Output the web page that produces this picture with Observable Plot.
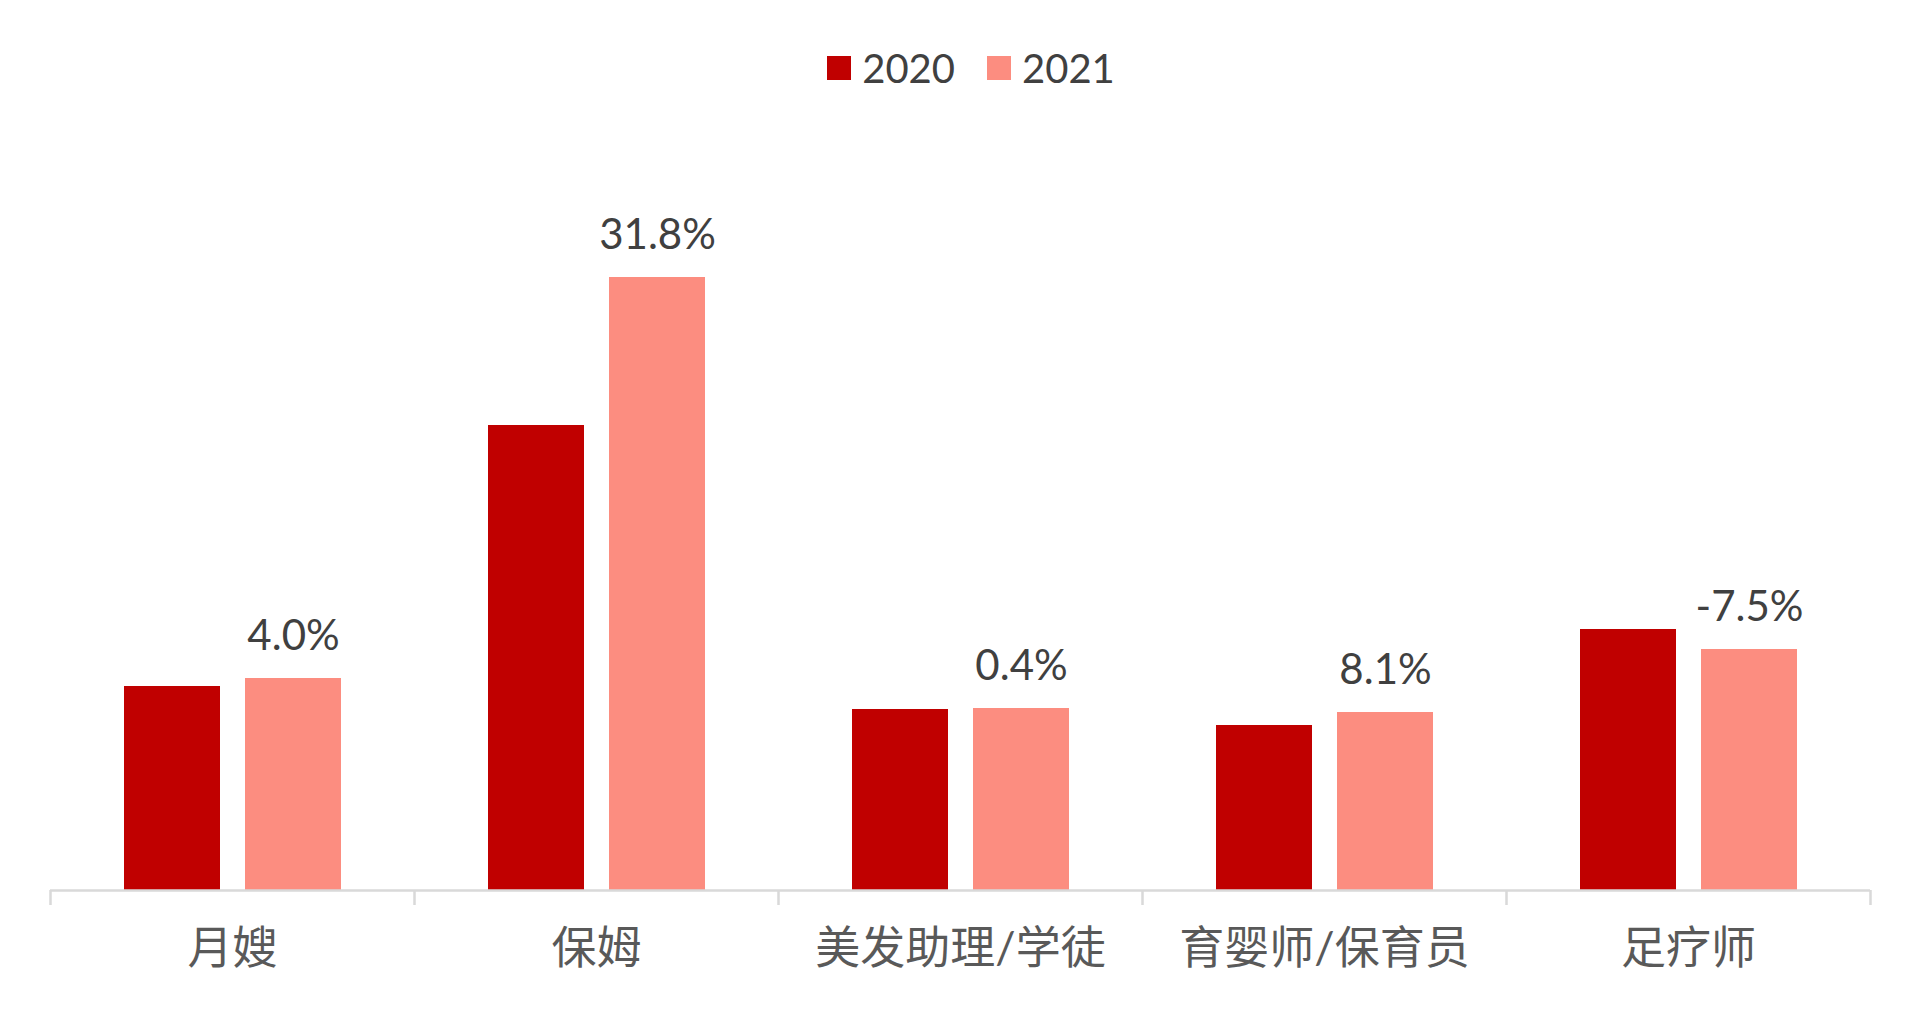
<!DOCTYPE html>
<html>
<head>
<meta charset="utf-8">
<script src="https://cdn.jsdelivr.net/npm/d3@7"></script>
<script src="https://cdn.jsdelivr.net/npm/@observablehq/plot@0.6"></script>
<style>
  html, body { margin: 0; padding: 0; background: #ffffff; }
  body { width: 1920px; height: 1023px; overflow: hidden; font-family: Lato, "Noto Sans CJK SC", sans-serif; }
  #legend { box-sizing: border-box; height: 120px; padding-top: 48px; display: flex; justify-content: center; align-items: flex-start; padding-left: 22px; }
  .item { display: flex; align-items: center; height: 40px; font-size: 40px; color: #404040; margin: 0 16px; }
  .swatch { width: 24px; height: 24px; margin-right: 11px; }
</style>
</head>
<body>
<div id="legend"></div>
<div id="chart"></div>
<script>
const categories = ["月嫂", "保姆", "美发助理/学徒", "育婴师/保育员", "足疗师"];
const years = ["2020", "2021"];
const values2020 = [204, 465, 181, 165, 261];
const values2021 = [212, 613, 182, 178, 241];
const growthLabels = ["4.0%", "31.8%", "0.4%", "8.1%", "-7.5%"];
const colors = ["#C00000", "#FC8D80"];

const rows = [];
categories.forEach((c, i) => {
  rows.push({category: c, year: years[0], value: values2020[i]});
  rows.push({category: c, year: years[1], value: values2021[i]});
});
const labels = categories.map((c, i) => ({category: c, year: years[1], value: values2021[i], label: growthLabels[i]}));

// legend
const legend = document.getElementById("legend");
years.forEach((y, i) => {
  const item = document.createElement("div");
  item.className = "item";
  const sw = document.createElement("div");
  sw.className = "swatch";
  sw.style.background = colors[i];
  const t = document.createElement("span");
  t.textContent = y;
  item.appendChild(sw);
  item.appendChild(t);
  legend.appendChild(item);
});

const axisColor = "#d9d9d9";
const chart = Plot.plot({
  width: 1920,
  height: 903,
  marginLeft: 49,
  marginRight: 50,
  marginTop: 70,
  marginBottom: 133,
  style: {fontFamily: 'Lato, "Noto Sans CJK SC", sans-serif', background: "#ffffff"},
  fx: {domain: categories, padding: 0, label: null},
  x: {domain: years, paddingInner: 0.207, paddingOuter: 0.607, axis: null},
  y: {domain: [0, 700], axis: null},
  color: {domain: years, range: colors},
  marks: [
    Plot.barY(rows, {fx: "category", x: "year", y: "value", fill: "year"}),
    Plot.ruleY([0], {stroke: axisColor, strokeWidth: 2.5}),
    Plot.axisFx({anchor: "bottom", tickSize: 15, tickFormat: () => "", stroke: axisColor, strokeWidth: 2.5, dx: -182, label: null}),
    Plot.axisFx({anchor: "bottom", ticks: [categories[categories.length - 1]], tickSize: 15, tickFormat: () => "", stroke: axisColor, strokeWidth: 2.5, dx: 182, label: null}),
    Plot.axisFx({anchor: "bottom", tickSize: 0, tickPadding: 42, fontSize: 45, fill: "#595959", label: null}),
    Plot.text(labels, {fx: "category", x: "year", y: "value", text: "label", dy: -42, fontSize: 42, fill: "#404040", lineAnchor: "middle"})
  ]
});
document.getElementById("chart").appendChild(chart);
</script>
</body>
</html>
